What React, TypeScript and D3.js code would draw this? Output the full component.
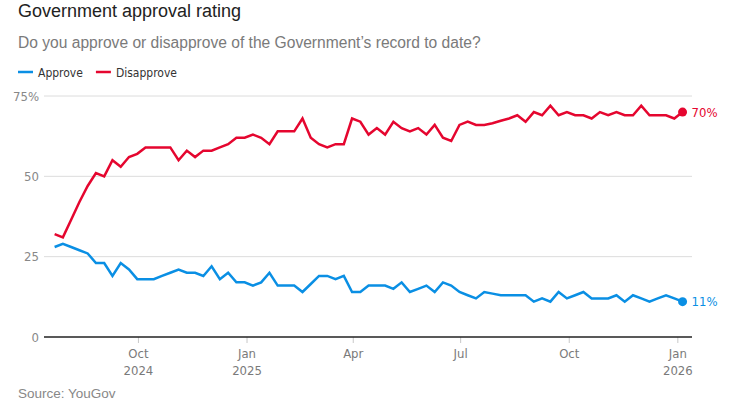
import React, { useEffect, useRef } from "react";
import * as d3 from "d3";

// YouGov weekly tracker, first poll 22 Jul 2024, one reading a week
const firstPoll = new Date(2024, 6, 22);

const approve = [
  28, 29, 28, 27, 26, 23, 23, 19, 23, 21, 18, 18, 18, 19, 20, 21, 20, 20, 19, 22,
  18, 20, 17, 17, 16, 17, 20, 16, 16, 16, 14, 16.5, 19, 19, 18, 19, 14, 14, 16, 16,
  16, 15, 17, 14, 15, 16, 14, 17, 16, 14, 13, 12, 14, 13.5, 13, 13, 13, 13, 11, 12,
  11, 14, 12, 13, 14, 12, 12, 12, 13, 11, 13, 12, 11, 12, 13, 12, 11,
];

const disapprove = [
  32, 31, 36.5, 42, 47, 51, 50, 55, 53, 56, 57, 59, 59, 59, 59, 55, 58, 56, 58, 58,
  59, 60, 62, 62, 63, 62, 60, 64, 64, 64, 68, 62, 60, 59, 60, 60, 68, 67, 63, 65,
  63, 67, 65, 64, 65, 63, 66, 62, 61, 66, 67, 66, 66, 66.5, 67.3, 68, 69, 67, 70, 69,
  72, 69, 70, 69, 69, 68, 70, 69, 70, 69, 69, 72, 69, 69, 69, 68, 70,
];

const yTicks = [0, 25, 50, 75];
const xDomain = [new Date(2024, 6, 13), new Date(2026, 0, 13)];

const series = [
  { name: "Approve", values: approve, color: "#0a8fe4" },
  { name: "Disapprove", values: disapprove, color: "#e5062f" },
];

const narrow = "'Liberation Sans Narrow', 'DejaVu Sans Condensed', 'Roboto Condensed', sans-serif";
const sans = "'Liberation Sans', Arial, sans-serif";

export default function App() {
  const svgRef = useRef<SVGSVGElement>(null);

  useEffect(() => {
    if (!svgRef.current) return;
    const width = 733;
    const height = 404;
    const marginLeft = 44;
    const marginRight = 41;
    const plotTop = 96;
    const plotBottom = 337;

    d3.select(svgRef.current).selectAll("*").remove();
    const svg = d3.select(svgRef.current)
      .attr("width", width)
      .attr("height", height)
      .attr("viewBox", [0, 0, width, height]);

    const dates = approve.map((_, i) => d3.timeDay.offset(firstPoll, i * 7));

    const x = d3.scaleTime()
      .domain(xDomain)
      .range([marginLeft, width - marginRight]);
    const y = d3.scaleLinear()
      .domain([0, 75])
      .range([plotBottom, plotTop]);

    // Title block
    svg.append("text")
      .attr("x", 18).attr("y", 17)
      .attr("font-family", sans).attr("font-size", 18)
      .attr("fill", "#222")
      .text("Government approval rating");
    svg.append("text")
      .attr("x", 18).attr("y", 48)
      .attr("font-family", sans).attr("font-size", 15.6)
      .attr("fill", "#7a7a7a")
      .text("Do you approve or disapprove of the Government\u2019s record to date?");

    // Legend
    const legend = svg.append("g").attr("transform", "translate(18, 72)");
    let lx = 0;
    series.forEach(s => {
      legend.append("line")
        .attr("x1", lx).attr("x2", lx + 15)
        .attr("stroke", s.color).attr("stroke-width", 2.5);
      const t = legend.append("text")
        .attr("x", lx + 20).attr("y", 4.5)
        .attr("font-family", narrow).attr("font-size", 12)
        .attr("fill", "#333")
        .text(s.name);
      lx += 20 + (t.node() as SVGTextElement).getComputedTextLength() + 13;
    });

    // Grid and y labels
    const grid = svg.append("g");
    grid.selectAll("line")
      .data(yTicks.filter(d => d > 0))
      .join("line")
      .attr("x1", marginLeft).attr("x2", width - marginRight)
      .attr("y1", d => y(d)).attr("y2", d => y(d))
      .attr("stroke", "#dcdcdc").attr("stroke-width", 1);
    grid.selectAll("text")
      .data(yTicks)
      .join("text")
      .attr("x", 39).attr("y", d => y(d))
      .attr("dy", "0.35em")
      .attr("text-anchor", "end")
      .attr("font-family", narrow).attr("font-size", 13)
      .attr("fill", "#888")
      .text(d => (d === 75 ? `${d}%` : `${d}`));

    // X axis
    const xTicks = x.ticks(d3.timeMonth.every(3)!);
    const xAxis = svg.append("g");
    xAxis.selectAll("line")
      .data(xTicks)
      .join("line")
      .attr("x1", d => x(d)).attr("x2", d => x(d))
      .attr("y1", plotBottom).attr("y2", plotBottom + 6)
      .attr("stroke", "#c8c8c8");
    const labels = xAxis.selectAll("text")
      .data(xTicks)
      .join("text")
      .attr("x", d => x(d))
      .attr("y", plotBottom + 21)
      .attr("text-anchor", "middle")
      .attr("font-family", narrow).attr("font-size", 13)
      .attr("fill", "#7a7a7a");
    labels.append("tspan").text(d => d3.timeFormat("%b")(d));
    labels.filter((d, i) => i === 0 || d.getMonth() === 0)
      .append("tspan")
      .attr("x", d => x(d)).attr("dy", 17)
      .text(d => d3.timeFormat("%Y")(d));
    xAxis.append("line")
      .attr("x1", marginLeft).attr("x2", width - marginRight)
      .attr("y1", plotBottom).attr("y2", plotBottom)
      .attr("stroke", "#222").attr("stroke-width", 1.5);

    // Lines
    const line = d3.line<number>()
      .x((_, i) => x(dates[i]))
      .y(d => y(d));
    series.forEach(s => {
      svg.append("path")
        .datum(s.values)
        .attr("fill", "none")
        .attr("stroke", s.color)
        .attr("stroke-width", 2.5)
        .attr("stroke-linejoin", "miter")
        .attr("d", line);
      const last = s.values.length - 1;
      svg.append("circle")
        .attr("cx", x(dates[last])).attr("cy", y(s.values[last]))
        .attr("r", 4.5).attr("fill", s.color);
      svg.append("text")
        .attr("x", x(dates[last]) + 9).attr("y", y(s.values[last]))
        .attr("dy", "0.35em")
        .attr("font-family", narrow).attr("font-size", 13)
        .attr("fill", s.color)
        .text(`${Math.round(s.values[last])}%`);
    });

    // Source
    svg.append("text")
      .attr("x", 18).attr("y", 398)
      .attr("font-family", sans).attr("font-size", 13.5)
      .attr("fill", "#888")
      .text("Source: YouGov");
  }, []);

  return (
    <div>
      <style>{`body { margin: 0; }`}</style>
      <svg ref={svgRef} style={{ display: "block" }}></svg>
    </div>
  );
}
